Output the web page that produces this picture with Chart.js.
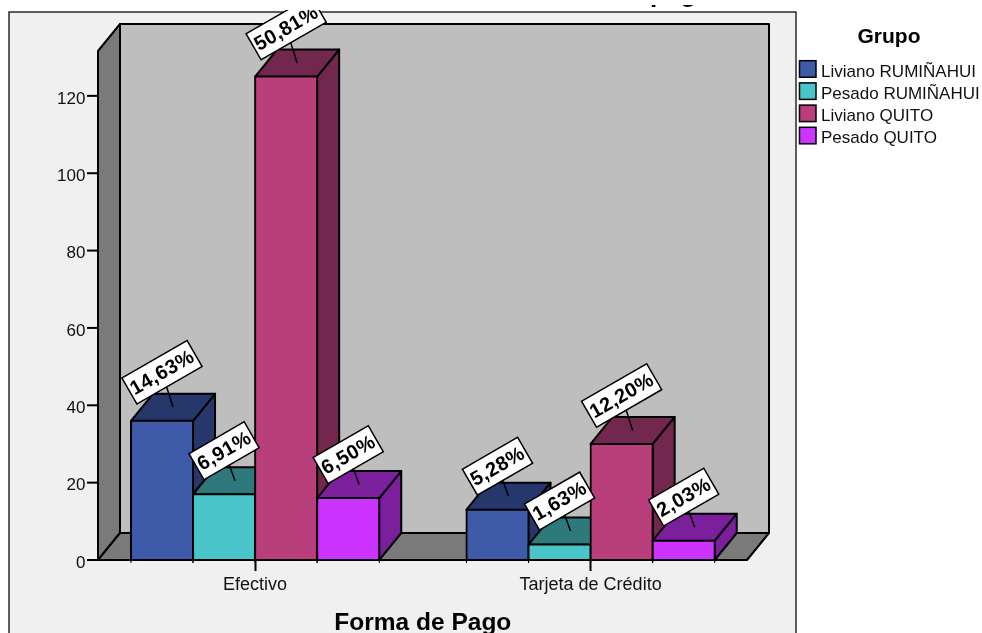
<!DOCTYPE html>
<html>
<head>
<meta charset="utf-8">
<title>Forma de Pago</title>
<script src="https://cdn.jsdelivr.net/npm/chart.js@4"></script>
<style>
  html, body { margin: 0; padding: 0; background: #fff; overflow: hidden; }
  canvas { display: block; }
</style>
</head>
<body>
<canvas id="chart" width="982" height="633"></canvas>
<script>
const categories = ['Efectivo', 'Tarjeta de Crédito'];
const groupNames = ['Liviano RUMIÑAHUI', 'Pesado RUMIÑAHUI', 'Liviano QUITO', 'Pesado QUITO'];
const livianoRumi = [36, 13];
const pesadoRumi = [17, 4];
const livianoQuito = [125, 30];
const pesadoQuito = [16, 5];
const groupValues = [livianoRumi, pesadoRumi, livianoQuito, pesadoQuito];
const frontColors = ['#3F5AA9', '#49C4C8', '#B93E7C', '#CC33FF'];
const darkColors = ['#26376C', '#2D797C', '#72274E', '#7C1F9C'];

const total = groupValues.flat().reduce((a, b) => a + b, 0);
const FONT = '"Liberation Sans", Arial, sans-serif';

// box depth of the fake 3D projection
const DX = 22, DY = 27;
// plot walls sit inside the chart area, which is wider so the categories land right
const WALL_LEFT = 98, WALL_RIGHT = 747;

function poly(ctx, pts, fill) {
  ctx.beginPath();
  pts.forEach((p, i) => i ? ctx.lineTo(p[0], p[1]) : ctx.moveTo(p[0], p[1]));
  ctx.closePath();
  ctx.fillStyle = fill;
  ctx.fill();
  ctx.stroke();
}

function pctLabel(v) {
  return (v / total * 100).toFixed(2).replace('.', ',') + '%';
}

const scene3d = {
  id: 'scene3d',
  beforeDraw(chart) {
    const ctx = chart.ctx;
    ctx.save();
    ctx.fillStyle = '#F0F0F0';
    ctx.fillRect(9, 12, 787, 640);
    ctx.strokeStyle = '#2a2a2a';
    ctx.lineWidth = 1.5;
    ctx.strokeRect(9, 12, 787, 640);
    // tail of the heading, cut by the top edge
    ctx.beginPath();
    ctx.rect(640, 5, 70, 5);
    ctx.clip();
    ctx.fillStyle = '#000';
    ctx.font = 'bold 26px ' + FONT;
    ctx.textBaseline = 'alphabetic';
    ctx.fillText('pag', 650, 2);
    ctx.restore();
  },
  beforeDatasetsDraw(chart) {
    const ctx = chart.ctx;
    const y = chart.scales.y;
    const top = chart.chartArea.top, base = chart.chartArea.bottom;
    ctx.save();
    ctx.strokeStyle = '#000';
    ctx.lineWidth = 2;
    ctx.lineJoin = 'round';

    // back wall, left wall, floor
    poly(ctx, [[WALL_LEFT + DX, top - DY], [WALL_RIGHT + DX, top - DY], [WALL_RIGHT + DX, base - DY], [WALL_LEFT + DX, base - DY]], '#BEBEBE');
    poly(ctx, [[WALL_LEFT, top], [WALL_LEFT + DX, top - DY], [WALL_LEFT + DX, base - DY], [WALL_LEFT, base]], '#7A7A7A');
    poly(ctx, [[WALL_LEFT, base], [WALL_LEFT + DX, base - DY], [WALL_RIGHT + DX, base - DY], [WALL_RIGHT, base]], '#7A7A7A');

    // y tick marks stop on the wall edge
    y.ticks.forEach(t => {
      const py = y.getPixelForValue(t.value);
      ctx.beginPath();
      ctx.moveTo(WALL_LEFT - 11, py);
      ctx.lineTo(WALL_LEFT, py);
      ctx.stroke();
    });

    // left to right so each bar covers the side of the one before it
    groupValues.forEach((vals, i) => {
      const meta = chart.getDatasetMeta(i);
      meta.data.forEach(bar => {
        const x0 = bar.x - bar.width / 2, x1 = bar.x + bar.width / 2;
        poly(ctx, [[x1, base], [x1 + DX, base - DY], [x1 + DX, bar.y - DY], [x1, bar.y]], darkColors[i]);
        poly(ctx, [[x0, bar.y], [x0 + DX, bar.y - DY], [x1 + DX, bar.y - DY], [x1, bar.y]], darkColors[i]);
        bar.draw(ctx);
        // little marks under the bar edges
        ctx.save();
        ctx.lineWidth = 1;
        ctx.beginPath();
        ctx.moveTo(x0, base);
        ctx.lineTo(x0, base + 3);
        ctx.moveTo(x1, base);
        ctx.lineTo(x1, base + 3);
        ctx.stroke();
        ctx.restore();
      });
    });
    ctx.restore();
    return false;
  },
  afterDraw(chart) {
    const ctx = chart.ctx;
    ctx.save();

    // front line of the floor and the value flags
    ctx.strokeStyle = '#000';
    ctx.lineWidth = 2;
    ctx.beginPath();
    ctx.moveTo(WALL_LEFT, chart.chartArea.bottom);
    ctx.lineTo(WALL_RIGHT, chart.chartArea.bottom);
    ctx.stroke();

    ctx.save();
    ctx.beginPath();
    ctx.rect(0, 10, 982, 623);
    ctx.clip();
    ctx.font = 'bold 20px ' + FONT;
    ctx.letterSpacing = '0.4px';
    ctx.textAlign = 'center';
    ctx.textBaseline = 'middle';
    groupValues.forEach((vals, i) => {
      chart.getDatasetMeta(i).data.forEach((bar, j) => {
        const text = pctLabel(vals[j]);
        const w = ctx.measureText(text).width + 5;
        const h = 30;
        const fx = bar.x + DX / 2, fy = bar.y - DY / 2;
        const cx = fx - 11, cy = fy - (text.length > 5 ? 35 : 30);
        ctx.strokeStyle = '#000';
        ctx.lineWidth = 1.5;
        ctx.beginPath();
        ctx.moveTo(fx, fy);
        ctx.lineTo(cx, cy);
        ctx.stroke();
        ctx.save();
        ctx.translate(cx, cy);
        ctx.rotate(-30 * Math.PI / 180);
        ctx.fillStyle = '#fff';
        ctx.fillRect(-w / 2, -h / 2, w, h);
        ctx.strokeRect(-w / 2, -h / 2, w, h);
        ctx.fillStyle = '#000';
        ctx.fillText(text, 0, 1);
        ctx.restore();
      });
    });
    ctx.restore();
    ctx.letterSpacing = '0px';

    // legend block on the right
    ctx.textAlign = 'center';
    ctx.textBaseline = 'alphabetic';
    ctx.fillStyle = '#000';
    ctx.font = 'bold 21px ' + FONT;
    ctx.fillText('Grupo', 889, 43);
    ctx.textAlign = 'left';
    ctx.font = '17px ' + FONT;
    ctx.strokeStyle = '#000';
    ctx.lineWidth = 1.5;
    groupNames.forEach((name, i) => {
      const y = 60.7 + i * 22.2;
      ctx.fillStyle = frontColors[i];
      ctx.fillRect(799.5, y, 16.5, 16.5);
      ctx.strokeRect(799.5, y, 16.5, 16.5);
      ctx.fillStyle = '#111';
      ctx.fillText(name, 821, y + 16);
    });
    ctx.restore();
  }
};

new Chart(document.getElementById('chart'), {
  type: 'bar',
  data: {
    labels: categories,
    datasets: groupNames.map((name, i) => ({
      label: name,
      data: groupValues[i],
      backgroundColor: frontColors[i],
      borderColor: '#000',
      borderWidth: 2,
      borderSkipped: false,
      inflateAmount: 1,
      categoryPercentage: 0.74,
      barPercentage: 1
    }))
  },
  options: {
    responsive: false,
    animation: false,
    layout: { padding: { left: 0, right: 223.65, top: 51, bottom: 0 } },
    plugins: { legend: { display: false }, tooltip: { enabled: false } },
    scales: {
      x: {
        afterFit: s => { s.height = 73; },
        grid: { offset: false, drawOnChartArea: false, drawTicks: true, tickLength: 11, tickColor: '#000', tickWidth: 2 },
        border: { display: false },
        ticks: { color: '#111', padding: 3, maxRotation: 0, font: { family: FONT, size: 18 } },
        title: {
          display: true,
          text: 'Forma de Pago',
          color: '#000',
          font: { family: FONT, size: 24.5, weight: 'bold' },
          padding: { top: 0, bottom: -5 }
        }
      },
      y: {
        min: 0,
        max: 131.6,
        afterFit: s => { s.width = 87.35; },
        grid: { display: false, drawTicks: false },
        border: { display: false },
        ticks: { stepSize: 20, includeBounds: false, color: '#111', padding: 2, labelOffset: 3, font: { family: FONT, size: 17 } }
      }
    }
  },
  plugins: [scene3d]
});
</script>
</body>
</html>
